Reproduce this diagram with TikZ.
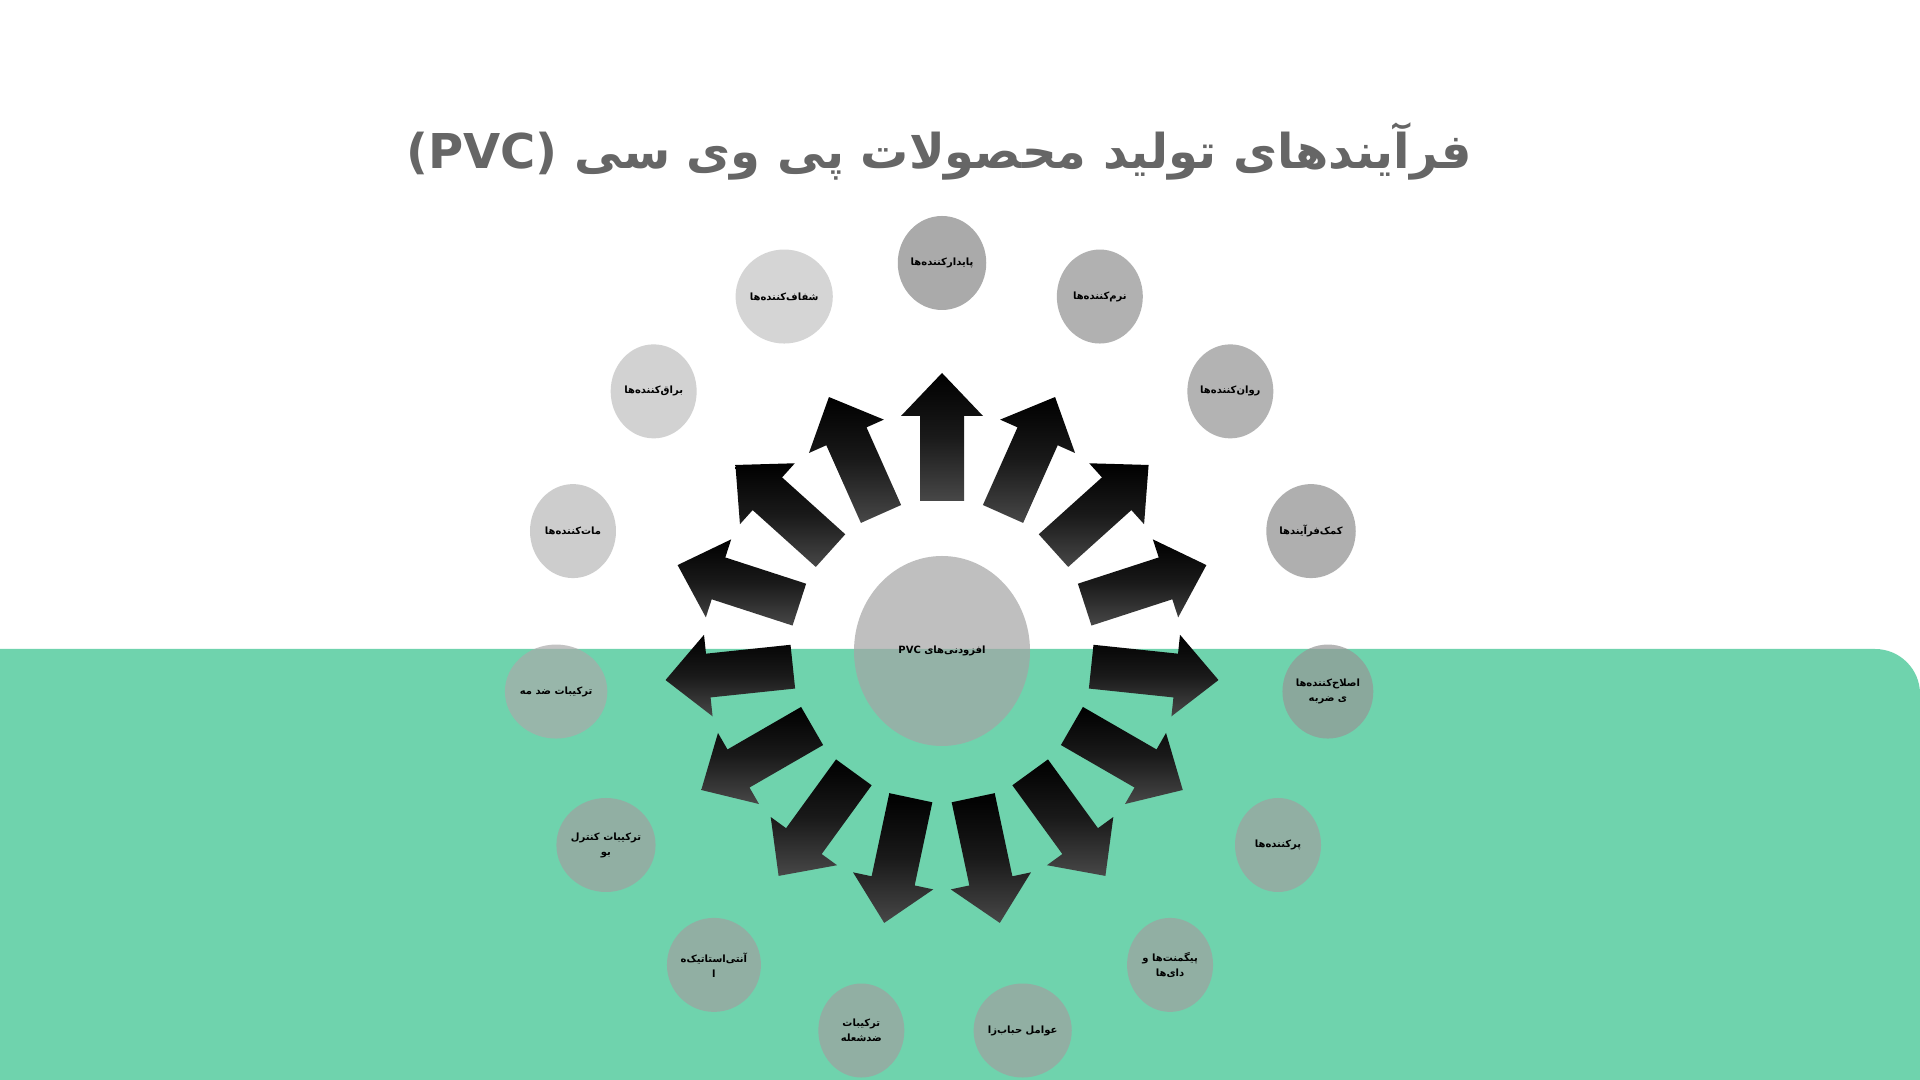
\documentclass[tikz,border=0pt]{standalone}
\usepackage{fontspec}
\newfontfamily\arabicfont[Script=Arabic]{DejaVu Sans}
\TeXXeTstate=1
\definecolor{bandgreen}{RGB}{111,211,173}
\definecolor{titlegray}{RGB}{102,102,102}
\newcommand\zw{^^^^200c}
\usetikzlibrary{shapes.geometric,calc}
\tikzset{
  bub/.style={ellipse,minimum width=43pt,minimum height=47pt,inner sep=0pt,fill opacity=0.7,text opacity=1,align=center,font=\arabicfont\fontsize{5}{7.5}\selectfont\bfseries,text=black},
}
\begin{document}
\begin{tikzpicture}[x=0.5pt,y=0.5pt]
\useasboundingbox (0,0) rectangle (1920,1080);
\fill[white] (0,0) rectangle (1920,1080);
\fill[bandgreen] (0,0) -- (0,431) -- (1875,431) arc[start angle=90,end angle=0,radius=45] -- (1920,0) -- cycle;
\node[font=\arabicfont\fontsize{24}{30}\selectfont\bfseries,text=titlegray] (title) at (939,929) {(PVC) \beginR فرآیندهای تولید محصولات پی وی سی\endR};
\coordinate (C) at (942,429);
% arrows
\foreach \a in {90,66,...,-246}{
  \begin{scope}[shift={(C)},rotate=\a]
  \shade[top color=black,bottom color=black!72,middle color=black!90] (150,-22) -- (235,-22) -- (235,-41) -- (278,0) -- (235,41) -- (235,22) -- (150,22) -- cycle;
  \end{scope}
}
\node[bub,fill={rgb,255:red,165;green,165;blue,165},minimum width=88pt,minimum height=95pt] (center) at (C) {\beginR افزودنی\zw های \beginL PVC\endL\endR};
\foreach \k/\c/\t in {
 0/134/{\beginR پایدارکننده\zw ها\endR},
 1/145/{\beginR نرم\zw کننده\zw ها\endR},
 2/148/{\beginR روان\zw کننده\zw ها\endR},
 3/142/{\beginR کمک\zw فرآیندها\endR},
 4/150/{\beginR اصلاح\zw کننده\zw ها\endR\\\beginR ی ضربه\endR},
 5/160/{\beginR پرکننده\zw ها\endR},
 6/160/{\beginR پیگمنت\zw ها و\endR\\\beginR دای\zw ها\endR},
 7/160/{\beginR عوامل حباب\zw زا\endR},
 8/160/{\beginR ترکیبات\endR\\\beginR ضدشعله\endR},
 9/160/{\beginR آنتی\zw استاتیک\zw ه\endR\\\beginR ا\endR},
 10/160/{\beginR ترکیبات کنترل\endR\\\beginR بو\endR},
 11/170/{\beginR ترکیبات ضد مه\endR},
 12/184/{\beginR مات\zw کننده\zw ها\endR},
 13/191/{\beginR براق\zw کننده\zw ها\endR},
 14/196/{\beginR شفاف\zw کننده\zw ها\endR}}{
  \pgfmathsetmacro\ang{90-24*\k}
  \node[bub,fill={rgb,255:red,\c;green,\c;blue,\c}] (b\k) at ($(C)+(\ang:388)$) {\t};
}
\end{tikzpicture}
\end{document}
